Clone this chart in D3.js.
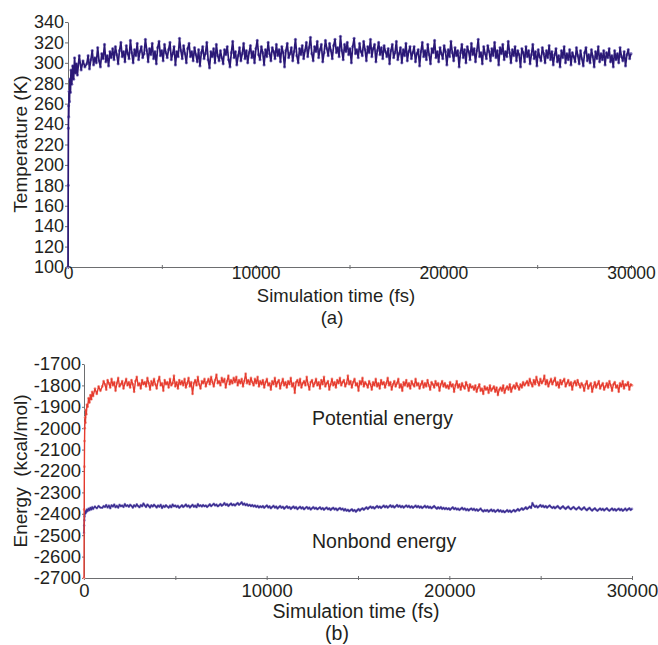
<!DOCTYPE html>
<html>
<head>
<meta charset="utf-8">
<script src="https://cdn.jsdelivr.net/npm/d3@7"></script>
<style>
body { margin: 0; background: #fff; }
text { font-family: "Liberation Sans", Arial, sans-serif; fill: #231f20; }
</style>
</head>
<body>
<svg id="chart"></svg>
<script>
// sample times (fs): dense at the start, then evenly spaced steady samples up to 30000
var rampTimes = [0, 10, 20, 30, 40, 60, 80, 100, 130, 160, 200, 250, 300, 350, 400, 450, 500, 600, 700, 800, 900];
var steadyStart = 1000, steadyEnd = 30000;

// (a) temperature, K
var tempRamp = [100, 180, 236, 258, 247, 272, 262, 284, 271, 293, 279, 297, 284, 305, 290, 299, 288, 307, 293, 302, 296];
var tempSteady = [
  299, 307, 294, 303, 312, 298, 305, 300, 315, 302, 296, 309, 304, 318, 301, 307, 297, 311, 305, 314,
  303, 316, 308, 299, 312, 320, 306, 311, 301, 317, 309, 304, 322, 310, 300, 313, 307, 319, 303, 311,
  316, 305, 309, 323, 312, 301, 314, 308, 319, 304, 311, 299, 315, 321, 307, 312, 302, 318, 310, 305,
  313, 320, 303, 309, 316, 298, 311, 306, 324, 312, 304, 317, 309, 300, 314, 319, 306, 311, 302, 315,
  308, 301, 313, 297, 310, 316, 304, 309, 320, 303, 295, 311, 306, 314, 300, 318, 307, 302, 312, 305,
  299, 313, 308, 316, 303, 296, 310, 321, 305, 311, 298, 307, 315, 302, 309, 319, 304, 312, 300, 310,
  317, 305, 311, 300, 314, 322, 308, 303, 316, 310, 298, 313, 306, 320, 309, 302, 315, 311, 304, 318,
  307, 313, 301, 316, 310, 296, 312, 319, 305, 309, 315, 302, 311, 323, 307, 300, 314, 308, 317, 304,
  312, 320, 306, 315, 325, 309, 302, 316, 311, 321, 305, 313, 318, 301, 310, 322, 314, 307, 319, 312,
  304, 317, 323, 310, 315, 306, 326, 312, 303, 318, 311, 320, 308, 314, 300, 316, 324, 309, 313, 305,
  319, 311, 307, 321, 313, 302, 316, 310, 323, 306, 314, 318, 301, 312, 320, 308, 315, 304, 317, 311,
  306, 314, 299, 312, 318, 305, 310, 321, 303, 309, 315, 300, 313, 307, 319, 302, 311, 316, 304, 310,
  316, 301, 309, 313, 297, 311, 320, 306, 312, 303, 318, 308, 299, 314, 310, 322, 305, 311, 301, 315,
  309, 304, 317, 311, 298, 313, 306, 321, 310, 302, 315, 307, 312, 296, 310, 318, 305, 313, 300, 316,
  311, 303, 319, 308, 314, 301, 312, 323, 306, 310, 299, 316, 309, 304, 317, 311, 302, 314, 307, 320,
  305, 312, 298, 315, 309, 318, 303, 311, 306, 321, 310, 300, 313, 307, 316, 302, 312, 308, 296, 314,
  310, 301, 316, 306, 312, 299, 308, 318, 304, 311, 297, 313, 306, 302, 315, 309, 300, 312, 305, 317,
  303, 311, 298, 308, 314, 301, 307, 296, 312, 305, 316, 300, 309, 303, 313, 298, 310, 306, 301, 315,
  307, 299, 312, 304, 297, 310, 315, 302, 308, 300, 313, 306, 296, 311, 304, 316, 301, 309, 303, 312,
  298, 310, 305, 314, 301, 307, 296, 312, 303, 309, 300, 315, 306, 302, 311, 297, 308, 313, 304, 309
];

// (b) potential energy, kcal/mol
var potRamp = [-2700, -2380, -2180, -2060, -2000, -1950, -1975, -1915, -1935, -1890, -1900, -1860, -1880, -1845, -1865, -1830, -1850, -1815, -1840, -1805, -1825];
var potSteady = [
  -1805, -1780, -1795, -1820, -1775, -1790, -1810, -1770, -1800, -1785, -1825, -1790, -1765, -1805, -1795, -1780, -1815, -1790, -1770, -1800,
  -1785, -1810, -1775, -1795, -1830, -1780, -1760, -1800, -1790, -1815, -1775, -1795, -1785, -1805, -1765, -1790, -1820, -1780, -1800, -1770,
  -1795, -1815, -1780, -1760, -1800, -1790, -1825, -1775, -1795, -1785, -1810, -1770, -1800, -1790, -1755, -1805, -1785, -1815, -1775, -1795,
  -1780, -1800, -1770, -1810, -1790, -1765, -1805, -1785, -1840, -1790, -1775, -1800, -1760, -1795, -1815, -1780, -1790, -1770, -1805, -1785,
  -1770, -1795, -1760, -1785, -1805, -1775, -1750, -1790, -1780, -1800, -1765, -1785, -1770, -1810, -1780, -1755, -1795, -1775, -1790, -1765,
  -1785, -1760, -1800, -1775, -1790, -1770, -1805, -1780, -1745, -1790, -1775, -1795, -1765, -1785, -1800, -1770, -1790, -1760, -1805, -1780,
  -1795, -1775, -1810, -1785, -1770, -1800, -1790, -1820, -1780, -1795, -1765, -1805, -1785, -1775, -1815, -1790, -1770, -1800, -1785, -1810,
  -1780, -1795, -1765, -1805, -1790, -1835, -1785, -1775, -1800, -1770, -1810, -1790, -1780, -1800, -1760, -1795, -1820, -1785, -1775, -1805,
  -1790, -1770, -1800, -1785, -1815, -1775, -1795, -1760, -1805, -1790, -1780, -1820, -1795, -1770, -1800, -1785, -1810, -1775, -1790, -1765,
  -1800, -1785, -1775, -1805, -1790, -1755, -1795, -1780, -1810, -1785, -1770, -1800, -1790, -1825, -1780, -1795, -1765, -1805, -1785, -1795,
  -1810, -1780, -1795, -1820, -1785, -1800, -1770, -1805, -1790, -1815, -1775, -1795, -1785, -1810, -1790, -1765, -1800, -1785, -1820, -1795,
  -1780, -1805, -1790, -1770, -1810, -1795, -1825, -1785, -1800, -1775, -1805, -1790, -1815, -1780, -1795, -1805, -1770, -1800, -1790, -1815,
  -1795, -1780, -1810, -1790, -1805, -1775, -1800, -1820, -1785, -1795, -1810, -1780, -1800, -1790, -1825, -1795, -1780, -1805, -1790, -1810,
  -1800, -1815, -1785, -1805, -1795, -1830, -1800, -1780, -1810, -1795, -1820, -1790, -1805, -1815, -1785, -1800, -1825, -1795, -1810, -1805,
  -1820, -1800, -1830, -1810, -1795, -1825, -1815, -1840, -1805, -1820, -1810, -1835, -1800, -1825, -1815, -1805, -1830, -1810, -1845, -1820,
  -1810, -1825, -1800, -1835, -1815, -1805, -1820, -1795, -1830, -1810, -1800, -1815, -1790, -1805, -1820, -1795, -1810, -1785, -1800, -1790,
  -1780, -1800, -1770, -1790, -1805, -1775, -1795, -1760, -1785, -1800, -1770, -1790, -1780, -1755, -1795, -1775, -1805, -1785, -1770, -1795,
  -1780, -1765, -1800, -1785, -1810, -1775, -1795, -1780, -1770, -1805, -1790, -1775, -1800, -1785, -1820, -1790, -1780, -1800, -1775, -1795,
  -1810, -1790, -1800, -1825, -1795, -1780, -1815, -1800, -1790, -1830, -1805, -1785, -1810, -1795, -1780, -1815, -1800, -1790, -1820, -1805,
  -1790, -1810, -1780, -1800, -1825, -1795, -1785, -1810, -1800, -1830, -1790, -1805, -1780, -1815, -1795, -1800, -1785, -1820, -1795, -1800
];

// (b) nonbond energy, kcal/mol
var nbRamp = [-2490, -2455, -2430, -2412, -2400, -2392, -2398, -2386, -2392, -2380, -2387, -2376, -2383, -2372, -2380, -2369, -2377, -2366, -2374, -2364, -2371];
var nbSteady = [
  -2372, -2364, -2368, -2359, -2370, -2362, -2374, -2360, -2366, -2357, -2369, -2363, -2371, -2358, -2365, -2361, -2368, -2355, -2364, -2360,
  -2367, -2358, -2363, -2371, -2360, -2366, -2356, -2364, -2369, -2359, -2365, -2352, -2361, -2368, -2357, -2363, -2370, -2360, -2366, -2358,
  -2364, -2370, -2361, -2367, -2358, -2373, -2363, -2368, -2360, -2366, -2371, -2362, -2369, -2357, -2365, -2361, -2368, -2363, -2372, -2366,
  -2360, -2368, -2363, -2357, -2366, -2361, -2370, -2364, -2358, -2367, -2362, -2369, -2355, -2364, -2360, -2366, -2359, -2365, -2361, -2368,
  -2362, -2356, -2364, -2359, -2353, -2361, -2357, -2365, -2360, -2354, -2362, -2358, -2350, -2359, -2355, -2363, -2357, -2352, -2360, -2356,
  -2361, -2355, -2350, -2358, -2353, -2346, -2357, -2352, -2360, -2355, -2362, -2358, -2364, -2359, -2366, -2361, -2368, -2363, -2370, -2365,
  -2369, -2364, -2372, -2366, -2361, -2370, -2365, -2374, -2368, -2363, -2371, -2366, -2375, -2369, -2364, -2372, -2367, -2376, -2370, -2365,
  -2373, -2368, -2377, -2371, -2366, -2374, -2369, -2378, -2372, -2367, -2375, -2370, -2379, -2373, -2368, -2376, -2371, -2380, -2374, -2369,
  -2376, -2372, -2379, -2374, -2370, -2378, -2373, -2381, -2375, -2371, -2379, -2374, -2382, -2376, -2372, -2380, -2375, -2383, -2377, -2373,
  -2380, -2376, -2384, -2378, -2386, -2381, -2388, -2383, -2379, -2387, -2382, -2390, -2384, -2378, -2385, -2379, -2374, -2381, -2375, -2370,
  -2377, -2371, -2366, -2373, -2368, -2375, -2369, -2364, -2371, -2366, -2373, -2367, -2362, -2369, -2364, -2371, -2366, -2360, -2368, -2363,
  -2370, -2365, -2359, -2367, -2362, -2369, -2364, -2371, -2366, -2361, -2368, -2363, -2370, -2365, -2372, -2367, -2362, -2369, -2364, -2371,
  -2366, -2373, -2368, -2363, -2370, -2365, -2372, -2367, -2374, -2369, -2364, -2371, -2376, -2370, -2375, -2369, -2377, -2372, -2378, -2373,
  -2379, -2374, -2381, -2375, -2370, -2378, -2373, -2380, -2376, -2382, -2377, -2372, -2380, -2375, -2383, -2378, -2384, -2379, -2375, -2382,
  -2377, -2384, -2379, -2386, -2381, -2376, -2384, -2389, -2383, -2387, -2382, -2390, -2385, -2380, -2388, -2383, -2391, -2386, -2381, -2389,
  -2384, -2391, -2386, -2393, -2388, -2383, -2390, -2385, -2392, -2387, -2382, -2389, -2384, -2378, -2385, -2380, -2374, -2381, -2376, -2370,
  -2377, -2372, -2366, -2373, -2350, -2362, -2368, -2363, -2370, -2365, -2359, -2367, -2362, -2369, -2364, -2371, -2366, -2361, -2368, -2373,
  -2367, -2374, -2369, -2364, -2371, -2376, -2370, -2365, -2372, -2377, -2371, -2366, -2374, -2379, -2373, -2368, -2375, -2380, -2374, -2369,
  -2376, -2381, -2375, -2370, -2378, -2383, -2377, -2372, -2380, -2385, -2379, -2374, -2381, -2386, -2380, -2375, -2382, -2377, -2384, -2379,
  -2374, -2381, -2386, -2380, -2375, -2383, -2378, -2385, -2380, -2376, -2383, -2378, -2386, -2381, -2376, -2384, -2379, -2374, -2382, -2377
];

var xTicks = [0, 5000, 10000, 15000, 20000, 25000, 30000];
var xLabels = [0, 10000, 20000, 30000];
var tempTicks = [100, 120, 140, 160, 180, 200, 220, 240, 260, 280, 300, 320, 340];
var energyTicks = [-2700, -2600, -2500, -2400, -2300, -2200, -2100, -2000, -1900, -1800, -1700];

var steadyTimes = tempSteady.map((d, i) => steadyStart + i * (steadyEnd - steadyStart) / (tempSteady.length - 1));
var times = rampTimes.concat(steadyTimes);

function toPoints(ramp, steady) {
  return ramp.concat(steady).map((v, i) => ({t: times[i], v: v}));
}

var svgWidth = 658, svgHeight = 645;
var svg = d3.select("#chart").attr("width", svgWidth).attr("height", svgHeight);
svg.append("rect").attr("width", svgWidth).attr("height", svgHeight).attr("fill", "#fff");

// markers first (pale halo), then the line on top
function drawSeries(g, x, y, pts, color, halo, width, r) {
  var line = d3.line().x(d => x(d.t)).y(d => y(d.v));
  g.append("g").selectAll("circle").data(pts).enter().append("circle")
    .attr("cx", d => x(d.t))
    .attr("cy", d => y(d.v))
    .attr("r", r)
    .attr("fill", halo);
  g.append("path").datum(pts)
    .attr("d", line)
    .attr("fill", "none")
    .attr("stroke", color)
    .attr("stroke-width", width)
    .attr("stroke-linejoin", "round");
}

function drawXAxis(x, yPos, labelY, fontSize) {
  var ax = svg.append("g")
    .attr("transform", "translate(0," + yPos + ")")
    .call(d3.axisBottom(x).tickValues(xTicks).tickSizeOuter(0)
      .tickFormat(d => xLabels.indexOf(d) >= 0 ? String(d) : ""));
  ax.select(".domain").attr("stroke", "#6d6e70");
  ax.selectAll(".tick line").attr("stroke", "#6d6e70").attr("y1", -2).attr("y2", 2);
  ax.selectAll(".tick text").attr("dy", null).attr("y", labelY)
    .style("font-size", fontSize + "px").attr("fill", "#231f20")
    .style("font-family", "'Liberation Sans', Arial, sans-serif");
}

function drawYAxis(y, xPos, ticks, tickLen, fontSize) {
  var ax = svg.append("g")
    .attr("transform", "translate(" + xPos + ",0)")
    .call(d3.axisLeft(y).tickValues(ticks).tickSize(tickLen).tickPadding(1).tickSizeOuter(0)
      .tickFormat(d => String(d)));
  ax.select(".domain").attr("stroke", "#6d6e70");
  ax.selectAll(".tick line").attr("stroke", "#6d6e70");
  ax.selectAll(".tick text").style("font-size", fontSize + "px").attr("fill", "#231f20")
    .style("font-family", "'Liberation Sans', Arial, sans-serif");
}

function label(txt, x, y, size, rotate) {
  var t = svg.append("text")
    .attr("text-anchor", "middle")
    .style("font-size", size + "px")
    .style("white-space", "pre")
    .text(txt);
  if (rotate) t.attr("transform", "translate(" + x + "," + y + ") rotate(-90)");
  else t.attr("x", x).attr("y", y);
  return t;
}

// ---- panel (a)
var xA = d3.scaleLinear().domain([0, 30000]).range([68, 631]);
var yA = d3.scaleLinear().domain([100, 340]).range([267, 22]);

drawXAxis(xA, 267, 12, 17.5);
drawYAxis(yA, 68, tempTicks, 3, 18);
drawSeries(svg.append("g"), xA, yA, toPoints(tempRamp, tempSteady), "#2a1876", "#8a80c4", 1.7, 1.6);

label("Temperature (K)", 27, 144, 19, true);
label("Simulation time (fs)", 336, 302, 18.5);
label("(a)", 332, 324, 18.5);

// ---- panel (b)
var xB = d3.scaleLinear().domain([0, 30000]).range([84, 632]);
var yB = d3.scaleLinear().domain([-2700, -1700]).range([578, 364]);

drawXAxis(xB, 578, 19, 18.5);
drawYAxis(yB, 84, energyTicks, 2, 18.5);
var gB = svg.append("g");
drawSeries(gB, xB, yB, toPoints(nbRamp, nbSteady), "#3b2d91", "#9a92cc", 1.5, 1.3);
drawSeries(gB, xB, yB, toPoints(potRamp, potSteady), "#e63b2e", "#f29a90", 1.4, 1.4);

label("Energy  (kcal/mol)", 27, 471, 19, true);
label("Simulation time (fs)", 356, 618, 19.5);
label("(b)", 337, 640, 19.5);

svg.append("text").attr("x", 312).attr("y", 425).style("font-size", "19.5px").text("Potential energy");
svg.append("text").attr("x", 312).attr("y", 548).style("font-size", "19.5px").text("Nonbond energy");
</script>
</body>
</html>
